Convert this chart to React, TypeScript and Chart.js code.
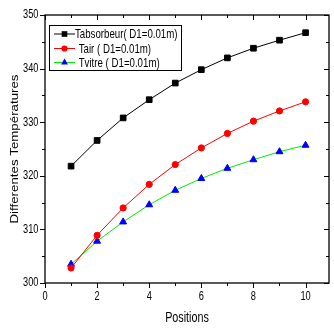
import React, { useEffect, useRef } from "react";
import { Chart, registerables } from "chart.js";

Chart.register(...registerables);

const positions = [1, 2, 3, 4, 5, 6, 7, 8, 9, 10];
const tAbsorbeur = [321.8, 326.6, 330.8, 334.2, 337.3, 339.8, 342.0, 343.8, 345.3, 346.7];
const tAir = [302.8, 308.9, 314.0, 318.4, 322.1, 325.2, 327.9, 330.2, 332.1, 333.8];
const tVitre = [303.5, 307.8, 311.4, 314.6, 317.3, 319.5, 321.4, 323.0, 324.5, 325.7];

const xMajorTicks = [0, 2, 4, 6, 8, 10];
const xMinorTicks = [1, 3, 5, 7, 9];
const yMajorTicks = [300, 310, 320, 330, 340, 350];
const yMinorTicks = [305, 315, 325, 335, 345];

const seriesLabels = ["Tabsorbeur( D1=0.01m)", " Tair ( D1=0.01m)", " Tvitre ( D1=0.01m)"];
const xTitle = "Positions";
const yTitle = "Differentes Températures";

const FONT = "'Liberation Sans', Arial, sans-serif";
const SQUEEZE = 0.77;

function squeezedText(
  ctx: CanvasRenderingContext2D,
  text: string,
  x: number,
  y: number,
  align: CanvasTextAlign,
  size: number,
  sx = SQUEEZE
) {
  ctx.save();
  ctx.translate(x, y);
  ctx.scale(sx, 1);
  ctx.font = `${size}px ${FONT}`;
  ctx.textAlign = align;
  ctx.textBaseline = "middle";
  ctx.fillStyle = "#000";
  ctx.fillText(text, 0, 0);
  ctx.restore();
}

function drawMarker(ctx: CanvasRenderingContext2D, style: string, r: number, x: number, y: number, color: string) {
  ctx.fillStyle = color;
  ctx.beginPath();
  if (style === "rect") {
    const s = Math.SQRT1_2 * r;
    ctx.rect(x - s, y - s, 2 * s, 2 * s);
  } else if (style === "circle") {
    ctx.arc(x, y, r, 0, Math.PI * 2);
  } else {
    let rad = 0;
    ctx.moveTo(x + Math.sin(rad) * r, y - Math.cos(rad) * r);
    rad += (2 * Math.PI) / 3;
    ctx.lineTo(x + Math.sin(rad) * r, y - Math.cos(rad) * r);
    rad += (2 * Math.PI) / 3;
    ctx.lineTo(x + Math.sin(rad) * r, y - Math.cos(rad) * r);
    ctx.closePath();
  }
  ctx.fill();
}

const framePlugin = {
  id: "frame",
  afterDraw(chart: any) {
    const { ctx, chartArea } = chart;
    const xs = chart.scales.x;
    const ys = chart.scales.y;
    const { left, right, top, bottom } = chartArea;
    ctx.save();
    ctx.strokeStyle = "#000";
    ctx.lineWidth = 1.3;
    ctx.strokeRect(left, top, right - left, bottom - top);
    ctx.lineWidth = 1;
    ctx.beginPath();
    const tick = (vals: number[], len: number) => {
      vals.forEach((v) => {
        const px = Math.round(xs.getPixelForValue(v)) + 0.5;
        ctx.moveTo(px, bottom);
        ctx.lineTo(px, bottom + len);
        ctx.moveTo(px, top);
        ctx.lineTo(px, top + len);
      });
    };
    tick(xMajorTicks, 5);
    tick(xMinorTicks, 3);
    const ytick = (vals: number[], len: number) => {
      vals.forEach((v) => {
        const py = Math.round(ys.getPixelForValue(v)) + 0.5;
        ctx.moveTo(left, py);
        ctx.lineTo(left - len, py);
        ctx.moveTo(right, py);
        ctx.lineTo(right - len, py);
      });
    };
    ytick(yMajorTicks, 5);
    ytick(yMinorTicks, 3);
    ctx.stroke();

    // tick labels from the scales' ticks
    xs.ticks.forEach((t: any) => {
      squeezedText(ctx, String(t.value), xs.getPixelForValue(t.value), bottom + 13.5, "center", 12);
    });
    ys.ticks.forEach((t: any) => {
      squeezedText(ctx, String(t.value), left - 6.5, ys.getPixelForValue(t.value), "right", 12);
    });

    // axis titles
    squeezedText(ctx, xTitle, (left + right) / 2, bottom + 35, "center", 14);
    ctx.save();
    ctx.translate(15, (top + bottom) / 2);
    ctx.rotate(-Math.PI / 2);
    ctx.scale(1, SQUEEZE);
    ctx.font = `13.3px ${FONT}`;
    ctx.textAlign = "center";
    ctx.textBaseline = "middle";
    ctx.fillStyle = "#000";
    ctx.fillText(yTitle, 0, 0);
    ctx.restore();

    // legend
    const bx = 49, by = 25, bw = 132, bh = 45;
    ctx.lineWidth = 1;
    ctx.strokeStyle = "#000";
    ctx.strokeRect(bx + 0.5, by + 0.5, bw, bh);
    const rows = [34, 48.5, 62.5];
    chart.data.datasets.forEach((ds: any, i: number) => {
      const y = rows[i];
      ctx.strokeStyle = ds.borderColor;
      ctx.lineWidth = 1;
      ctx.beginPath();
      ctx.moveTo(54, y);
      ctx.lineTo(75, y);
      ctx.stroke();
      drawMarker(ctx, ds.pointStyle, ds.pointRadius, 64.5, y, ds.pointBackgroundColor);
      squeezedText(ctx, seriesLabels[i], i === 0 ? 75 : 76, y + 0.5, "left", 13, 0.745);
    });
    ctx.restore();
  },
};

export default function App() {
  const ref = useRef<HTMLCanvasElement>(null);
  useEffect(() => {
    document.body.style.margin = "0";
    const mk = (data: number[], line: string, mark: string, style: string, r: number) => ({
      data: positions.map((x, i) => ({ x, y: data[i] })),
      borderColor: line,
      borderWidth: 1,
      pointStyle: style,
      pointRadius: r,
      pointBackgroundColor: mark,
      pointBorderColor: mark,
      pointBorderWidth: 1,
      tension: 0,
    });
    const chart = new Chart(ref.current!, {
      type: "line",
      data: {
        datasets: [
          mk(tAbsorbeur, "#000000", "#000000", "rect", 4),
          mk(tAir, "#ff0000", "#ff0000", "circle", 3.1),
          mk(tVitre, "#00ee00", "#0000ff", "triangle", 4),
        ] as any,
      },
      options: {
        animation: false,
        responsive: false,
        layout: { padding: { top: 15, right: 1, left: 0, bottom: 0 } },
        plugins: { legend: { display: false }, tooltip: { enabled: false } },
        scales: {
          x: {
            type: "linear",
            min: 0,
            max: 10.9,
            grid: { display: false, drawTicks: false },
            border: { display: false },
            afterBuildTicks: (s: any) => {
              s.ticks = xMajorTicks.map((v) => ({ value: v }));
            },
            afterFit: (s: any) => {
              s.height = 48;
            },
            ticks: { display: false },
            title: { display: false },
          },
          y: {
            type: "linear",
            min: 300,
            max: 350,
            grid: { display: false, drawTicks: false },
            border: { display: false },
            afterBuildTicks: (s: any) => {
              s.ticks = yMajorTicks.map((v) => ({ value: v }));
            },
            afterFit: (s: any) => {
              s.width = 45;
            },
            ticks: { display: false },
            title: { display: false },
          },
        },
      },
      plugins: [framePlugin],
    });
    return () => chart.destroy();
  }, []);
  return (
    <div style={{ position: "absolute", left: 0, top: 0, width: 334, height: 331 }}>
      <canvas ref={ref} width={334} height={331} style={{ width: 334, height: 331 }} />
    </div>
  );
}
